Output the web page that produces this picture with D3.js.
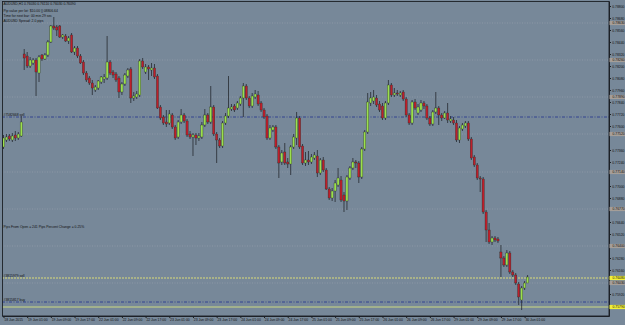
<!DOCTYPE html>
<html>
<head>
<meta charset="utf-8">
<script src="https://cdn.jsdelivr.net/npm/d3@7"></script>
<style>
  body { margin: 0; background: #778899; }
  svg { display: block; }
  text { font-family: "Liberation Sans", Arial, sans-serif; font-size: 3.4px; fill: #111; }
</style>
</head>
<body>
<svg id="chart" width="625" height="325"></svg>
<script>
// AUDUSD H1, one value per hourly bar
var opens = [
  0.7739,0.7746,0.7750,0.7746,0.7751,0.7748,0.7750,0.7832,0.7830,0.7820,
  0.7823,0.7826,0.7813,0.7831,0.7827,0.7831,0.7844,0.7860,0.7859,0.7860,
  0.7849,0.7850,0.7845,0.7851,0.7834,0.7838,0.7830,0.7824,0.7813,0.7808,
  0.7803,0.7796,0.7798,0.7804,0.7807,0.7808,0.7824,0.7814,0.7812,0.7808,
  0.7794,0.7802,0.7810,0.7817,0.7788,0.7789,0.7791,0.7825,0.7814,0.7819,
  0.7816,0.7818,0.7810,0.7779,0.7769,0.7764,0.7763,0.7771,0.7759,0.7749,
  0.7764,0.7771,0.7765,0.7752,0.7749,0.7751,0.7748,0.7749,0.7761,0.7771,
  0.7764,0.7779,0.7752,0.7746,0.7740,0.7763,0.7770,0.7777,0.7780,0.7778,
  0.7782,0.7788,0.7800,0.7788,0.7780,0.7789,0.7791,0.7783,0.7776,0.7770,
  0.7748,0.7756,0.7759,0.7739,0.7724,0.7734,0.7724,0.7722,0.7739,0.7748,
  0.7768,0.7740,0.7723,0.7726,0.7724,0.7728,0.7730,0.7713,0.7726,0.7716,
  0.7697,0.7688,0.7695,0.7701,0.7706,0.7691,0.7685,0.7708,0.7718,0.7724,
  0.7723,0.7709,0.7737,0.7754,0.7783,0.7785,0.7788,0.7782,0.7780,0.7768,
  0.7783,0.7801,0.7791,0.7793,0.7791,0.7794,0.7787,0.7771,0.7763,0.7784,
  0.7773,0.7776,0.7783,0.7780,0.7768,0.7762,0.7774,0.7778,0.7771,0.7768,
  0.7773,0.7765,0.7766,0.7763,0.7746,0.7757,0.7760,0.7763,0.7747,0.7729,
  0.7721,0.7708,0.7707,0.7674,0.7656,0.7644,0.7648,0.7647,0.7634,0.7628,
  0.7621,0.7633,0.7614,0.7611,0.7602,0.7586,0.7598,0.7603
];
var highs = [
  0.7751,0.7752,0.7752,0.7753,0.7755,0.7754,0.7770,0.7837,0.7834,0.7829,
  0.7828,0.7828,0.7831,0.7832,0.7833,0.7846,0.7861,0.7869,0.7861,0.7861,
  0.7852,0.7852,0.7850,0.7853,0.7840,0.7840,0.7832,0.7826,0.7815,0.7810,
  0.7806,0.7801,0.7806,0.7810,0.7812,0.7850,0.7826,0.7816,0.7814,0.7810,
  0.7804,0.7813,0.7818,0.7819,0.7794,0.7795,0.7827,0.7828,0.7822,0.7821,
  0.7823,0.7822,0.7812,0.7781,0.7771,0.7776,0.7776,0.7773,0.7761,0.7766,
  0.7777,0.7773,0.7767,0.7755,0.7753,0.7753,0.7753,0.7764,0.7777,0.7773,
  0.7800,0.7781,0.7754,0.7748,0.7765,0.7773,0.7810,0.7782,0.7782,0.7785,
  0.7790,0.7803,0.7802,0.7790,0.7793,0.7796,0.7795,0.7785,0.7778,0.7772,
  0.7761,0.7761,0.7761,0.7741,0.7736,0.7743,0.7728,0.7741,0.7752,0.7774,
  0.7770,0.7742,0.7734,0.7735,0.7732,0.7734,0.7736,0.7728,0.7729,0.7718,
  0.7699,0.7698,0.7706,0.7718,0.7710,0.7694,0.7711,0.7720,0.7728,0.7726,
  0.7725,0.7739,0.7756,0.7793,0.7794,0.7796,0.7791,0.7785,0.7783,0.7785,
  0.7806,0.7803,0.7798,0.7796,0.7795,0.7796,0.7789,0.7773,0.7786,0.7787,
  0.7782,0.7786,0.7785,0.7782,0.7770,0.7776,0.7794,0.7780,0.7773,0.7775,
  0.7783,0.7770,0.7769,0.7766,0.7760,0.7763,0.7765,0.7765,0.7749,0.7731,
  0.7723,0.7710,0.7709,0.7676,0.7663,0.7650,0.7650,0.7649,0.7641,0.7630,
  0.7636,0.7635,0.7616,0.7613,0.7604,0.7600,0.7605,0.7611
];
var lows = [
  0.7737,0.7744,0.7745,0.7744,0.7745,0.7746,0.7749,0.7816,0.7818,0.7818,
  0.7821,0.7790,0.7804,0.7825,0.7826,0.7829,0.7843,0.7856,0.7850,0.7848,
  0.7847,0.7844,0.7842,0.7833,0.7831,0.7828,0.7822,0.7811,0.7804,0.7801,
  0.7791,0.7794,0.7796,0.7802,0.7803,0.7806,0.7811,0.7808,0.7804,0.7788,
  0.7791,0.7800,0.7808,0.7783,0.7785,0.7787,0.7789,0.7817,0.7812,0.7806,
  0.7810,0.7807,0.7777,0.7766,0.7761,0.7759,0.7761,0.7757,0.7746,0.7747,
  0.7762,0.7763,0.7749,0.7747,0.7730,0.7741,0.7745,0.7747,0.7759,0.7762,
  0.7762,0.7750,0.7723,0.7738,0.7738,0.7761,0.7768,0.7775,0.7774,0.7776,
  0.7780,0.7769,0.7786,0.7778,0.7778,0.7787,0.7780,0.7774,0.7767,0.7746,
  0.7746,0.7754,0.7737,0.7708,0.7721,0.7721,0.7718,0.7711,0.7737,0.7741,
  0.7737,0.7721,0.7720,0.7721,0.7722,0.7726,0.7709,0.7711,0.7714,0.7696,
  0.7686,0.7685,0.7684,0.7699,0.7684,0.7674,0.7676,0.7706,0.7716,0.7718,
  0.7703,0.7707,0.7735,0.7752,0.7780,0.7782,0.7779,0.7774,0.7766,0.7766,
  0.7781,0.7789,0.7789,0.7790,0.7789,0.7785,0.7769,0.7761,0.7761,0.7776,
  0.7771,0.7774,0.7777,0.7766,0.7760,0.7760,0.7772,0.7761,0.7765,0.7767,
  0.7763,0.7763,0.7761,0.7744,0.7743,0.7755,0.7758,0.7745,0.7726,0.7719,
  0.7706,0.7694,0.7672,0.7644,0.7642,0.7641,0.7644,0.7643,0.7609,0.7619,
  0.7619,0.7612,0.7609,0.7601,0.7581,0.7576,0.7596,0.7603
];
var closes = [
  0.7748,0.7749,0.7747,0.7750,0.7748,0.7752,0.7764,0.7828,0.7820,0.7826,
  0.7826,0.7814,0.7829,0.7827,0.7831,0.7844,0.7860,0.7858,0.7856,0.7849,
  0.7851,0.7845,0.7848,0.7834,0.7838,0.7830,0.7823,0.7813,0.7806,0.7803,
  0.7798,0.7799,0.7805,0.7809,0.7809,0.7824,0.7813,0.7811,0.7806,0.7794,
  0.7802,0.7811,0.7816,0.7788,0.7790,0.7792,0.7825,0.7819,0.7819,0.7817,
  0.7818,0.7809,0.7778,0.7768,0.7763,0.7762,0.7772,0.7759,0.7748,0.7764,
  0.7771,0.7765,0.7751,0.7749,0.7751,0.7748,0.7750,0.7761,0.7771,0.7764,
  0.7779,0.7752,0.7746,0.7740,0.7763,0.7770,0.7778,0.7779,0.7776,0.7783,
  0.7788,0.7800,0.7788,0.7780,0.7790,0.7792,0.7782,0.7776,0.7769,0.7748,
  0.7758,0.7759,0.7739,0.7723,0.7733,0.7723,0.7722,0.7739,0.7749,0.7768,
  0.7739,0.7723,0.7726,0.7724,0.7729,0.7731,0.7713,0.7726,0.7716,0.7697,
  0.7688,0.7695,0.7703,0.7708,0.7686,0.7685,0.7709,0.7718,0.7724,0.7723,
  0.7709,0.7737,0.7754,0.7784,0.7788,0.7789,0.7781,0.7776,0.7768,0.7783,
  0.7801,0.7791,0.7793,0.7792,0.7793,0.7787,0.7771,0.7763,0.7784,0.7778,
  0.7779,0.7783,0.7780,0.7768,0.7762,0.7774,0.7778,0.7771,0.7768,0.7773,
  0.7766,0.7767,0.7763,0.7746,0.7758,0.7761,0.7763,0.7747,0.7728,0.7721,
  0.7708,0.7707,0.7674,0.7656,0.7644,0.7648,0.7646,0.7645,0.7628,0.7621,
  0.7633,0.7614,0.7611,0.7603,0.7589,0.7598,0.7603,0.7609
];

// time labels, one every 8 bars
var timeLabels = ["18 Jun 2015","19 Jun 01:00","19 Jun 09:00","19 Jun 17:00","22 Jun 01:00",
  "22 Jun 09:00","22 Jun 17:00","23 Jun 01:00","23 Jun 09:00","23 Jun 17:00","24 Jun 01:00",
  "24 Jun 09:00","24 Jun 17:00","25 Jun 01:00","25 Jun 09:00","25 Jun 17:00","26 Jun 01:00",
  "26 Jun 09:00","26 Jun 17:00","29 Jun 01:00","29 Jun 09:00","29 Jun 17:00","30 Jun 01:00"];
var labelStep = 8;

// price scale labels
var priceTicks = [0.7880,0.7868,0.7856,0.7844,0.7832,0.7820,0.7808,0.7796,0.7784,0.7772,
  0.7760,0.7748,0.7736,0.7724,0.7712,0.7700,0.7688,0.7676,0.7664,0.7652,
  0.7640,0.7628,0.7616,0.7604,0.7592,0.7580];

// dotted level lines
var gridLevels = [0.7863,0.7826,0.7789,0.7752,0.7714,0.7677,0.7640,0.7603];

// order lines
var orderLevels = [0.7769, 0.7608, 0.7584];
var orderTags = ["#7582668 sell", "#3815979 sell", "#3815817 buy"];
var bidLevel = 0.7579;

var symbol = "AUDUSD,H1";
var infoLines = ["Pip value per lot: $10.00  ||  08806.64", "Time for next bar: 00 min 29 sec", "AUDUSD Spread: 2.0 pips"];
var statsLine = "Pips From Open = 241 Pips   Percent Change = 0.25%";

var svg = d3.select("#chart");
var plotL = 2, plotR = 609, plotT = 1, plotB = 316;

var x = d3.scaleLinear().domain([-0.5, 204.5]).range([plotL, plotR]);
var y = d3.scaleLinear().domain([0.7570, 0.7885]).range([plotB, plotT]);
var fmt = d3.format(".5f");

svg.append("defs").append("clipPath").attr("id", "plotclip")
  .append("rect").attr("x", plotL).attr("y", plotT).attr("width", plotR - plotL).attr("height", plotB - plotT);

var plot = svg.append("g").attr("clip-path", "url(#plotclip)");

// dotted levels
plot.selectAll(".grid")
  .data(gridLevels)
  .enter().append("line")
  .attr("class", "grid")
  .attr("x1", plotL).attr("x2", plotR)
  .attr("y1", function(d) { return y(d); })
  .attr("y2", function(d) { return y(d); })
  .attr("stroke", "#9aa4ae")
  .attr("stroke-width", 0.6)
  .attr("stroke-dasharray", "1,1.5");

// order lines
var orderStyle = [
  { color: "#2b3d8f", dash: "3,1.5,1,1.5", width: 0.9 },
  { color: "#dcdc78", dash: "2,1", width: 1 },
  { color: "#2b3d8f", dash: "3,1.5,1,1.5", width: 0.9 }
];
plot.selectAll(".order")
  .data(orderLevels)
  .enter().append("line")
  .attr("class", "order")
  .attr("x1", plotL).attr("x2", plotR)
  .attr("y1", function(d) { return y(d); })
  .attr("y2", function(d) { return y(d); })
  .attr("stroke", function(d, i) { return orderStyle[i].color; })
  .attr("stroke-width", function(d, i) { return orderStyle[i].width; })
  .attr("stroke-dasharray", function(d, i) { return orderStyle[i].dash; });

plot.selectAll(".ordertag")
  .data(orderLevels)
  .enter().append("text")
  .attr("class", "ordertag")
  .attr("x", 3.5)
  .attr("y", function(d) { return y(d) - 0.9; })
  .text(function(d, i) { return orderTags[i]; });

plot.append("line")
  .attr("x1", plotL).attr("x2", plotR)
  .attr("y1", y(bidLevel)).attr("y2", y(bidLevel))
  .attr("stroke", "#cdd981")
  .attr("stroke-width", 1);

// candles
var bars = d3.range(opens.length).map(function(i) {
  return { i: i, o: opens[i], h: highs[i], l: lows[i], c: closes[i] };
});

plot.selectAll(".wick")
  .data(bars)
  .enter().append("line")
  .attr("class", "wick")
  .attr("x1", function(d) { return x(d.i); })
  .attr("x2", function(d) { return x(d.i); })
  .attr("y1", function(d) { return y(d.h); })
  .attr("y2", function(d) { return y(d.l); })
  .attr("stroke", "#262a30")
  .attr("stroke-width", 0.8);

plot.selectAll(".body")
  .data(bars)
  .enter().append("rect")
  .attr("class", "body")
  .attr("x", function(d) { return x(d.i) - 1.1; })
  .attr("width", 2.2)
  .attr("y", function(d) { return y(Math.max(d.o, d.c)); })
  .attr("height", function(d) { return Math.max(0.8, Math.abs(y(d.o) - y(d.c))); })
  .attr("fill", function(d) { return d.c >= d.o ? "#9be04c" : "#bd1f2b"; })
  .attr("stroke", "#2a2e2a")
  .attr("stroke-width", 0.35);

// frame
svg.append("rect")
  .attr("x", plotL + 0.5).attr("y", plotT + 0.5)
  .attr("width", plotR - plotL - 0.5).attr("height", plotB - plotT - 0.5)
  .attr("fill", "none")
  .attr("stroke", "#1c2026")
  .attr("stroke-width", 0.9);

// level boxes on price axis
var boxes = gridLevels.map(function(p) { return { p: p, kind: "grid" }; })
  .concat([{ p: orderLevels[1], kind: "yellow" }, { p: bidLevel, kind: "yellow" }]);

// price axis; a label hidden under a level box is left out, as on the terminal
var shownTicks = priceTicks.filter(function(t) {
  return !boxes.some(function(b) { return Math.abs(y(b.p) - y(t)) < 4.2; });
});
svg.append("g")
  .attr("transform", "translate(" + plotR + ",0)")
  .attr("color", "#1c2026")
  .call(d3.axisRight(y).tickValues(shownTicks).tickSize(2).tickSizeOuter(0).tickPadding(1.2).tickFormat(fmt));

var box = svg.selectAll(".lvlbox")
  .data(boxes)
  .enter().append("g")
  .attr("class", "lvlbox")
  .attr("transform", function(d) { return "translate(" + (plotR + 0.5) + "," + y(d.p) + ")"; });

box.append("rect")
  .attr("x", 0).attr("y", -2.1)
  .attr("width", 17).attr("height", 4.2)
  .attr("fill", function(d) { return d.kind == "grid" ? "#a59e98" : "#f2ef3a"; });

box.append("text")
  .attr("x", 3)
  .attr("dy", "0.34em")
  .text(function(d) { return fmt(d.p); });

// time axis
var labelBars = timeLabels.map(function(t, k) { return k * labelStep; });
var xAxis = svg.append("g")
  .attr("transform", "translate(0," + plotB + ")")
  .attr("color", "#1c2026")
  .call(d3.axisBottom(x).tickValues(labelBars).tickSize(2).tickSizeOuter(0).tickPadding(1)
    .tickFormat(function(d, k) { return timeLabels[k]; }));
xAxis.selectAll("text").attr("text-anchor", "start").attr("x", 0.3);

// header texts
var last = bars[bars.length - 1];
var header = [symbol + "  " + [last.o, last.h, last.l, last.c].map(fmt).join(" ")].concat(infoLines);
var headerY = [5.2, 12.2, 17.2, 22];

svg.selectAll(".info")
  .data(header)
  .enter().append("text")
  .attr("class", "info")
  .attr("x", 3.5)
  .attr("y", function(d, i) { return headerY[i]; })
  .text(function(d) { return d; });

svg.append("text")
  .attr("x", 3.5)
  .attr("y", 228.2)
  .text(statsLine);
</script>
</body>
</html>
